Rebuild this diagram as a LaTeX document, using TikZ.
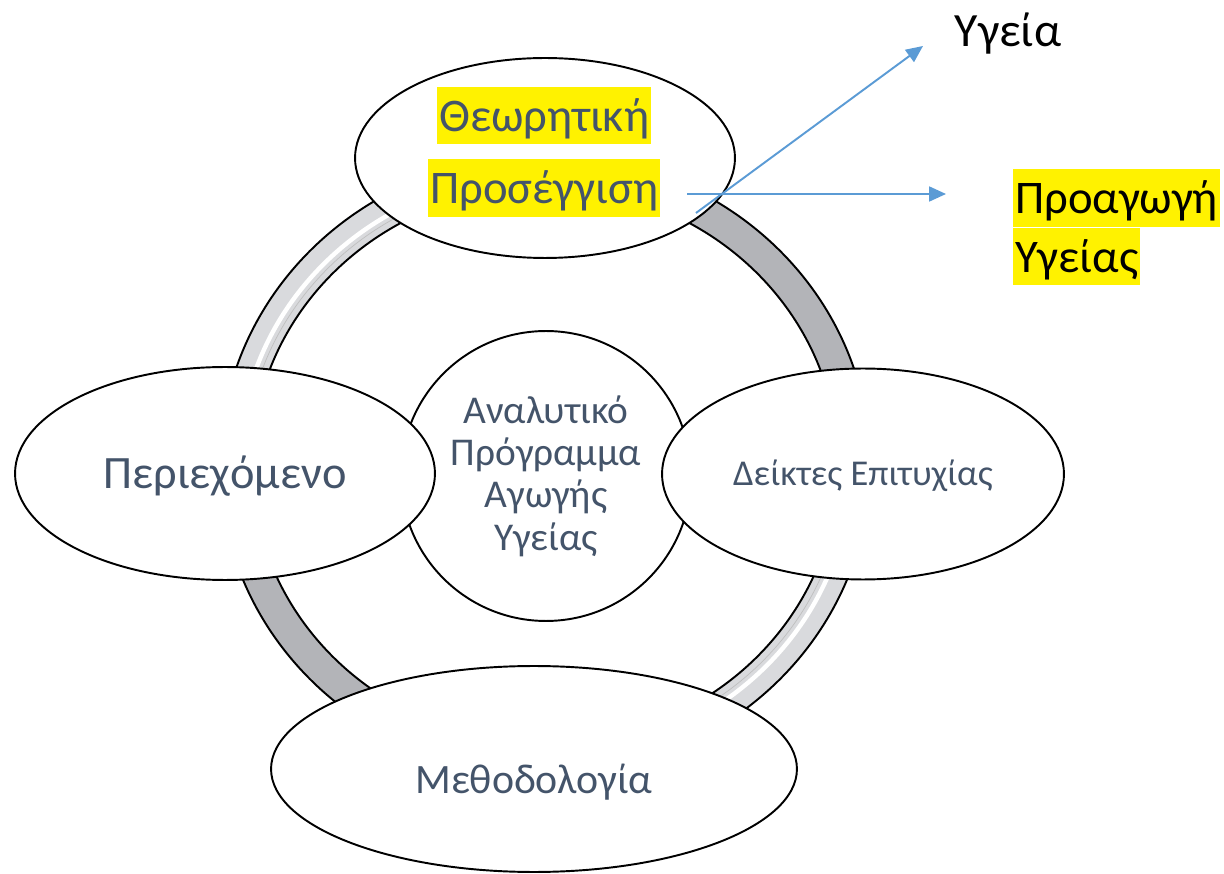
\documentclass[tikz,border=0pt]{standalone}
\usepackage{fontspec}
\setmainfont{Carlito}
\usepackage{tikz}
\usetikzlibrary{arrows.meta,shapes.geometric}
\definecolor{txt}{HTML}{44546A}
\definecolor{arr}{HTML}{5B9BD5}
\definecolor{ringdark}{HTML}{B3B4B8}
\definecolor{ringlight}{HTML}{D9DADD}

\begin{document}
\begin{tikzpicture}[x=0.02cm,y=-0.02cm,
	bubble/.style={ellipse, draw=black, line width=1.1pt, fill=white, inner sep=0pt, text=txt},
	hl/.style={fill=yellow, anchor=west, inner xsep=1pt, inner ysep=0pt, text=txt, font=\fontsize{26.6}{32}\selectfont, text height=25.3pt, text depth=7.2pt},
	link/.style={arr, line width=1.1pt, -{Triangle[length=9.6pt,width=8.5pt]}}]
	\useasboundingbox (0,0) rectangle (1224,874);

	% ring
	\begin{scope}[even odd rule]
		\clip (545,465) ellipse [x radius=325, y radius=310] (545,465) ellipse [x radius=293, y radius=278];
		\fill[ringdark] (200,120) rectangle (900,800);
		\fill[ringlight] (545,465) rectangle (200,120);
		\fill[ringlight] (545,465) rectangle (900,800);
		\clip (545,465) rectangle (200,120) (545,465) rectangle (900,800);
		\draw[white, line width=2.5pt] (545,465) ellipse [x radius=306, y radius=291];
		\draw[gray!50, line width=0.4pt] (545,465) ellipse [x radius=300, y radius=285];
	\end{scope}
	\draw[line width=1.1pt] (545,465) ellipse [x radius=325, y radius=310];
	\draw[line width=1.1pt] (545,465) ellipse [x radius=293, y radius=278];

	\node[circle, draw=black, line width=1.1pt, fill=white, minimum size=5.8cm, inner sep=0pt, align=center, text=txt, font=\fontsize{22.4}{24.1}\selectfont] (prog) at (546,476) {Αναλυτικό\\Πρόγραμμα\\Αγωγής\\Υγείας};

	\node[bubble, minimum width=7.6cm, minimum height=4cm] (theo) at (545,158) {};
	\node[bubble, minimum width=8.4cm, minimum height=4.26cm, font=\fontsize{26.4}{30}\selectfont, text height=17pt, text depth=0pt] (cont) at (225,473.5) {Περιεχόμενο};
	\node[bubble, minimum width=8.04cm, minimum height=4.22cm, font=\fontsize{20.7}{24}\selectfont, text height=13.3pt, text depth=0pt] (ind) at (863,474) {Δείκτες Επιτυχίας};
	\node[bubble, minimum width=10.52cm, minimum height=4.12cm] (meth) at (534,769) {};
	\node[text=txt, font=\fontsize{23.8}{28}\selectfont, text height=15.3pt, text depth=0pt, inner sep=0pt] (methtxt) at (534,780) {Μεθοδολογία};

	\node[hl] (theo1) at (437,115.5) {Θεωρητική\hspace{8.5pt}};
	\node[hl] (theo2) at (428,188) {Προσέγγιση\hspace{8.5pt}};

	\node[text=black, font=\fontsize{27.2}{32}\selectfont, text height=17.5pt, text depth=0pt, inner sep=0pt] (ygeia) at (1008,31) {Υγεία};
	\node[hl, text=black] (prom1) at (1013,198) {Προαγωγή\hspace{20pt}};
	\node[hl, text=black] (prom2) at (1013,256.5) {Υγείας\hspace{6pt}};

	\coordinate (a1s) at (696,213);
	\coordinate (a1e) at (923,46);
	\coordinate (a2s) at (687,194);
	\coordinate (a2e) at (946,194);
	\draw[link] (a1s) -- (a1e);
	\draw[link] (a2s) -- (a2e);

\end{tikzpicture}
\end{document}
